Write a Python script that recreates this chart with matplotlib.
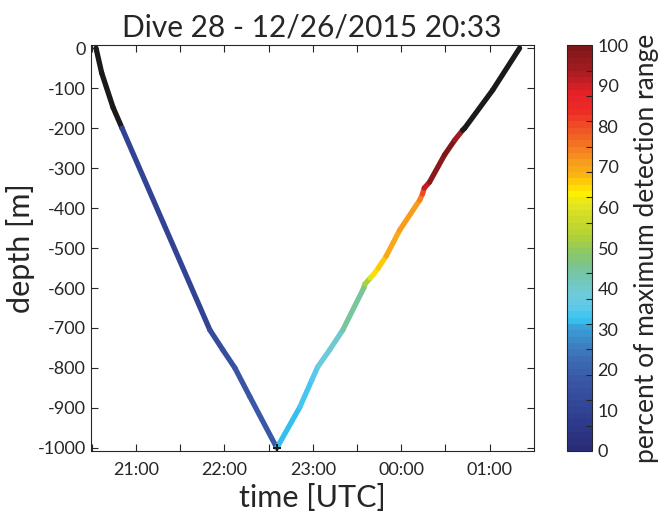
import numpy as np
import matplotlib
matplotlib.use('Agg')
import matplotlib.pyplot as plt
from matplotlib.collections import LineCollection
from matplotlib.colors import LinearSegmentedColormap
from matplotlib.ticker import MultipleLocator, FuncFormatter

plt.rcParams['font.family'] = ['Lato', 'DejaVu Sans']
plt.rcParams['axes.unicode_minus'] = False

# dive profile, time in hours since 12/26 00:00 UTC
t_down = [20.548, 20.612, 20.740, 20.842, 21.836, 21.983, 22.119, 22.288, 22.593]
d_down = [0, -62, -148, -200, -705, -755, -800, -872, -1000]
p_down = [np.nan, np.nan, np.nan, 8, 13, 15, 16, 17, 18]

t_up = [22.593, 22.853, 22.989, 23.056, 23.19, 23.339, 23.576, 23.59, 23.65, 23.69, 23.74,
        23.83, 23.983, 24.209, 24.24, 24.26, 24.32, 24.49, 24.605, 24.695, 24.718, 25.034, 25.339]
d_up = [-1000, -898, -830, -797, -755, -705, -600, -590, -575, -565, -550,
        -520, -455, -380, -365, -350, -335, -267, -230, -205, -200, -105, 0]
p_up = [32, 33, 34, 36, 39, 42, 46, 50, 56, 63, 66,
        68, 70, 73, 76, 86, 97, 99, 98, 90, np.nan, np.nan, np.nan]

bottom_t = 22.593
bottom_d = -1000

# colorbar colours (position 0..1, colour)
cb_pos = [0.0, 0.05, 0.09, 0.13, 0.17, 0.22, 0.26, 0.30, 0.32, 0.35, 0.38, 0.43, 0.46, 0.49,
          0.53, 0.575, 0.61, 0.636, 0.66, 0.68, 0.71, 0.75, 0.79, 0.845, 0.89, 0.95, 1.0]
cb_col = ['#2a2c78', '#2d3888', '#314293', '#354c9c', '#3957a6', '#3b6bb3', '#3d84c4',
          '#3a9fd8', '#35c4f0', '#5bc8ea', '#6dcadc', '#75c6b0', '#7bc48a', '#8dc763',
          '#b2d235', '#cddb2a', '#e5e620', '#fff000', '#ffd400', '#fbb515', '#f7a01b',
          '#f47c20', '#f15a24', '#ec2a26', '#e42127', '#a01c20', '#7f1718']
cmap = LinearSegmentedColormap.from_list('det', list(zip(cb_pos, cb_col)), N=64)

fig = plt.figure(figsize=(6.69, 5.13), dpi=100)
ax = fig.add_axes([0.1356, 0.121, 0.662, 0.791])
cax = fig.add_axes([0.8475, 0.121, 0.0375, 0.791])

txt = '#262626'

for t, d, p in [(t_down, d_down, p_down), (t_up, d_up, p_up)]:
    pts = np.column_stack([t, d])
    segs = np.stack([pts[:-1], pts[1:]], axis=1)
    p = np.array(p, dtype=float)
    cols = []
    for i in range(len(segs)):
        if np.isnan(p[i]) or np.isnan(p[i + 1]):
            cols.append('#1a1a1a')
        else:
            cols.append(cmap((p[i] + p[i + 1]) / 200))
    lc = LineCollection(segs, colors=cols, linewidths=3.8, capstyle='round', joinstyle='round')
    ax.add_collection(lc)

ax.plot([bottom_t], [bottom_d], marker='+', color='#1a1a1a', ms=6, mew=1.5)

ax.set_xlim(20.488, 25.497)
ax.set_ylim(-1007.5, 7.5)
ax.xaxis.set_major_locator(MultipleLocator(1))
ax.xaxis.set_minor_locator(MultipleLocator(0.5))
ax.xaxis.set_major_formatter(FuncFormatter(lambda v, pos: '%02d:00' % (int(round(v)) % 24)))
ax.yaxis.set_major_locator(MultipleLocator(100))
ax.tick_params(which='both', direction='in', top=True, right=True, colors=txt,
               labelsize=13, length=5, width=0.8)
ax.tick_params(axis='x', pad=8)
for s in ax.spines.values():
    s.set_color(txt)
    s.set_linewidth(0.8)

ax.set_title('Dive 28 - 12/26/2015 20:33', fontsize=21.5, color=txt, pad=6)
ax.set_xlabel('time [UTC]', fontsize=22, color=txt, labelpad=4)
ax.set_ylabel('depth [m]', fontsize=22, color=txt, labelpad=2)

sm = plt.cm.ScalarMappable(cmap=cmap, norm=plt.Normalize(0, 100))
cb = fig.colorbar(sm, cax=cax)
cb.outline.set_edgecolor(txt)
cb.outline.set_linewidth(0.8)
cb.set_ticks(np.arange(0, 101, 10))
cax.yaxis.set_minor_locator(MultipleLocator(6.25))
cax.tick_params(which='major', length=0, labelsize=13, colors=txt, pad=4)
cax.tick_params(which='minor', direction='in', length=4, width=0.8, colors=txt)
cb.set_label('percent of maximum detection range', fontsize=19, color=txt, labelpad=4)

fig.savefig('out.png', dpi=100)
